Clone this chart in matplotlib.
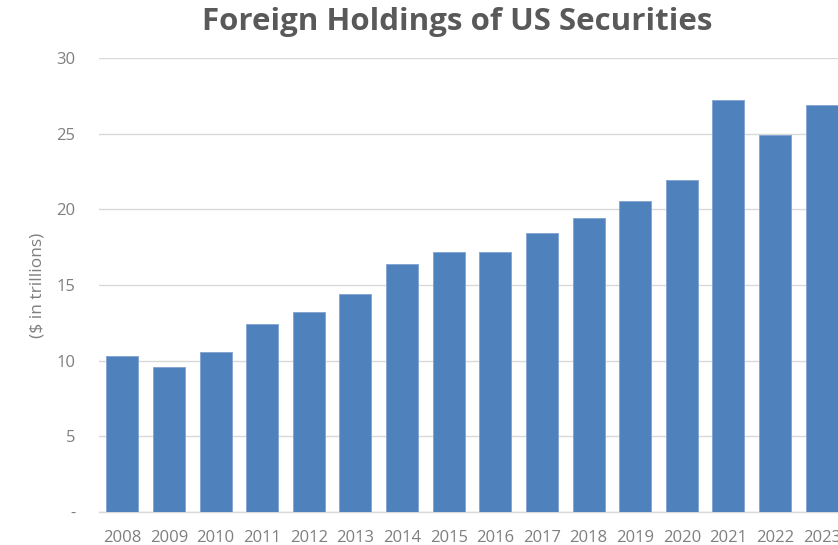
import numpy as np
import matplotlib.pyplot as plt

# Datos del gráfico
years = ["2008", "2009", "2010", "2011", "2012", "2013", "2014", "2015",
         "2016", "2017", "2018", "2019", "2020", "2021", "2022", "2023"]
holdings = [10.3, 9.6, 10.6, 12.4, 13.2, 14.4, 16.4, 17.15,
            17.15, 18.45, 19.4, 20.55, 21.95, 27.25, 24.9, 26.9]
y_ticks = [0, 5, 10, 15, 20, 25, 30]
y_tick_labels = ["-", "5", "10", "15", "20", "25", "30"]

W, H = 838, 545
fig = plt.figure(figsize=(W / 100, H / 100), dpi=100)

# El eje se extiende más allá del borde derecho (la última barra queda cortada)
left, right = 99, 845
bottom, top = 512, 58
ax = fig.add_axes([left / W, (H - bottom) / H, (right - left) / W, (bottom - top) / H])

x = np.arange(len(years))
ax.bar(x, holdings, width=0.686, color="#4F81BD", edgecolor="#7FA3D1",
       linewidth=0.6, zorder=3)

ax.set_xlim(-0.5, len(years) - 0.5)
ax.set_ylim(0, 30)
ax.set_yticks(y_ticks)
ax.set_yticklabels(y_tick_labels)
ax.set_xticks(x)
ax.set_xticklabels(years)

ax.grid(axis="y", color="#D9D9D9", linewidth=1.0, zorder=0)
for side in ["top", "right", "left"]:
    ax.spines[side].set_visible(False)
ax.spines["bottom"].set_color("#D9D9D9")
ax.spines["bottom"].set_linewidth(1.0)
ax.tick_params(axis="both", length=0, colors="#7F7F7F", labelsize=12)
ax.tick_params(axis="y", pad=17)
ax.tick_params(axis="x", pad=13)
for lbl in ax.get_xticklabels() + ax.get_yticklabels():
    lbl.set_family("Open Sans")

ax.set_ylabel("($ in trillions)", color="#7F7F7F", fontsize=12.5, family="Open Sans")
ax.yaxis.set_label_coords((37 - left) / (right - left), 0.5)
ax.yaxis.label.set_va("center")

fig.text(457 / W, 1 - 22 / H, "Foreign Holdings of US Securities",
         ha="center", va="center", fontsize=22.5, fontweight="bold",
         color="#595959", family="Open Sans")

fig.savefig("out.png", dpi=100)
